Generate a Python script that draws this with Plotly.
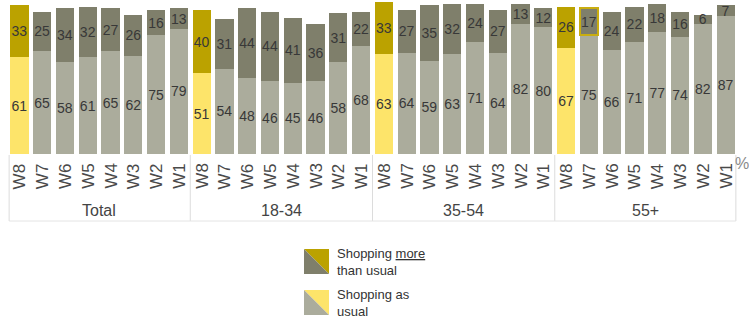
import plotly.graph_objects as go

groups = ["Total", "18-34", "35-54", "55+"]
waves = ["W8", "W7", "W6", "W5", "W4", "W3", "W2", "W1"]
as_usual = [
    61, 65, 58, 61, 65, 62, 75, 79,
    51, 54, 48, 46, 45, 46, 58, 68,
    63, 64, 59, 63, 71, 64, 82, 80,
    67, 75, 66, 71, 77, 74, 82, 87,
]
more_than_usual = [
    33, 25, 34, 32, 27, 26, 16, 13,
    40, 31, 44, 44, 41, 36, 31, 22,
    33, 27, 35, 32, 24, 27, 13, 12,
    26, 17, 24, 22, 18, 16, 6, 7,
]
legend_labels = ["Shopping <u>more</u><br>than usual", "Shopping as<br>usual"]

W, H = 749, 323
L, R, T, B = 8, 12, 0, 169
PW, PH = W - L - R, H - T - B

def px(x):
    return (x - L) / PW

def py(y):
    return (H - B - y) / PH

n = len(as_usual)
xs = list(range(n))
light_gray, dark_gray = "#abac9c", "#7f7f6b"
yellow, gold = "#fde46a", "#bba200"
is_latest = [waves[i % 8] == "W8" for i in xs]
c_usual = [yellow if f else light_gray for f in is_latest]
c_more = [gold if f else dark_gray for f in is_latest]
line_more_col = ["rgba(0,0,0,0)"] * n
line_more_w = [0] * n
line_more_col[25] = "#c9ad10"
line_more_w[25] = 2

txt_font = dict(family="Liberation Sans, Arial", size=14, color="#383838")

fig = go.Figure()
fig.add_bar(x=xs, y=as_usual, marker=dict(color=c_usual, line=dict(width=0)),
            text=[str(v) for v in as_usual], textposition="inside",
            insidetextanchor="middle", textangle=0, textfont=txt_font,
            hoverinfo="skip")
fig.add_bar(x=xs, y=more_than_usual,
            marker=dict(color=c_more, line=dict(color=line_more_col, width=line_more_w)),
            text=[str(v) for v in more_than_usual], textposition="inside",
            insidetextanchor="middle", textangle=0, textfont=txt_font,
            hoverinfo="skip")

annotations = []
shapes = []
lab_font = dict(family="Liberation Sans, Arial", size=17, color="#4a4a4a")
grp_font = dict(family="Liberation Sans, Arial", size=16, color="#444")
for i in xs:
    annotations.append(dict(x=i, y=py(176), xref="x", yref="paper", text=waves[i % 8],
                            textangle=-90, showarrow=False, font=lab_font,
                            xanchor="center", yanchor="middle"))
for g, name in enumerate(groups):
    annotations.append(dict(x=g * 8 + 3.5, y=py(210), xref="x", yref="paper", text=name,
                            showarrow=False, font=grp_font, xanchor="center", yanchor="middle"))
for xb in [-0.45, 7.5, 15.5, 23.5, 31.45]:
    shapes.append(dict(type="line", xref="x", yref="paper", x0=xb, x1=xb,
                       y0=py(155), y1=py(221), line=dict(color="#dcdcdc", width=1)))
shapes.append(dict(type="line", xref="x", yref="paper", x0=-0.45, x1=31.45,
                   y0=py(221), y1=py(221), line=dict(color="#e4e4e4", width=1)))
annotations.append(dict(x=px(742), y=py(163), xref="paper", yref="paper", text="%",
                        showarrow=False, font=dict(family="Liberation Sans, Arial", size=16, color="#8a8a8a"),
                        xanchor="center", yanchor="middle"))

# legend
for k, (top_c, bot_c, y0) in enumerate([(gold, dark_gray, 249), (yellow, light_gray, 290)]):
    x0, x1, y1 = 304, 329, y0 + 25
    shapes.append(dict(type="path", xref="paper", yref="paper",
                       path=f"M {px(x0)} {py(y0)} L {px(x1)} {py(y0)} L {px(x1)} {py(y1)} Z",
                       fillcolor=top_c, line=dict(width=0)))
    shapes.append(dict(type="path", xref="paper", yref="paper",
                       path=f"M {px(x0)} {py(y0)} L {px(x1)} {py(y1)} L {px(x0)} {py(y1)} Z",
                       fillcolor=bot_c, line=dict(width=0)))
    annotations.append(dict(x=px(335), y=py(y0 + 12.5), xref="paper", yref="paper",
                            text=legend_labels[k], showarrow=False, align="left",
                            xanchor="left", yanchor="middle",
                            font=dict(family="Liberation Sans, Arial", size=13, color="#333")))

fig.update_layout(
    width=W, height=H, barmode="stack", bargap=0.2,
    margin=dict(l=L, r=R, t=T, b=B),
    plot_bgcolor="white", paper_bgcolor="white",
    showlegend=False,
    xaxis=dict(range=[-0.5, 31.5], showticklabels=False, showgrid=False, zeroline=False, fixedrange=True),
    yaxis=dict(range=[0, 97.3], showticklabels=False, showgrid=False, zeroline=False, fixedrange=True),
    uniformtext=dict(minsize=14, mode="show"),
    annotations=annotations, shapes=shapes,
)
fig.write_html("out.html", config={"displayModeBar": False, "staticPlot": True},
               post_script="document.body.style.margin='0';document.body.style.padding='0';")
